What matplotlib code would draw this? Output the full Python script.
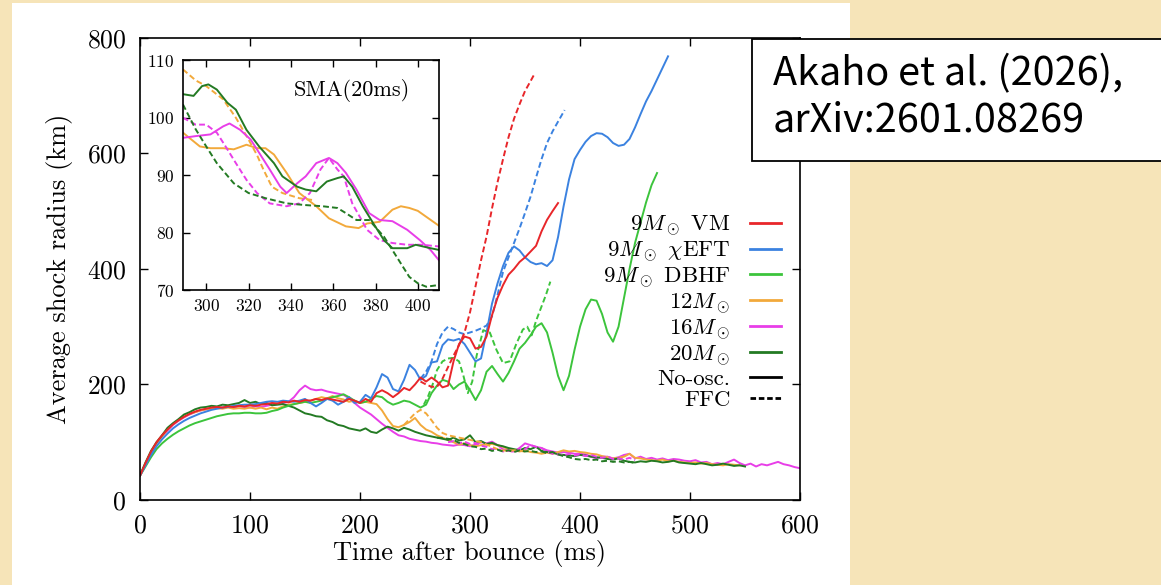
import matplotlib
matplotlib.use("Agg")
import matplotlib.pyplot as plt
from matplotlib.lines import Line2D
from matplotlib.patches import Rectangle

plt.rcParams["font.family"] = "serif"
plt.rcParams["font.serif"] = ["cmr10", "DejaVu Serif"]
plt.rcParams["mathtext.fontset"] = "cm"
plt.rcParams["axes.formatter.use_mathtext"] = True

# ---- main panel data (time after bounce in ms, shock radius in km) ----
t_vm = list(range(0, 385, 5))
r_vm = [42, 64, 84, 100, 112, 122, 131, 138, 144, 149,
        153, 156, 158, 160, 161, 160, 162, 161, 163, 162,
        164, 163, 165, 166, 168, 167, 170, 169, 172, 170,
        173, 172, 175, 173, 176, 174, 172, 170, 175, 172,
        168, 175, 170, 185, 190, 185, 178, 185, 194, 190,
        200, 212, 205, 212, 205, 195, 198, 240, 270, 283,
        280, 262, 265, 283, 320, 350, 372, 390, 400, 412,
        420, 430, 440, 465, 485, 500, 514]
t_vm_ffc = [255, 260, 265, 270, 275, 280, 285, 290, 295, 300, 305,
            310, 315, 320, 325, 330, 335, 340, 345, 350, 355, 359]
r_vm_ffc = [205, 200, 196, 196, 210, 230, 250, 268, 290, 325, 370,
            415, 456, 505, 550, 590, 628, 660, 685, 708, 725, 739]

t_eft = list(range(0, 485, 5))
r_eft = [42, 60, 78, 93, 105, 115, 124, 131, 137, 142,
         146, 150, 153, 156, 158, 160, 161, 163, 164, 165,
         165, 166, 168, 170, 171, 170, 172, 171, 170, 172,
         175, 168, 162, 168, 175, 172, 165, 170, 178, 168,
         170, 182, 176, 195, 218, 212, 192, 188, 208, 234,
         225, 208, 215, 238, 240, 268, 278, 276, 279, 270,
         255, 240, 245, 290, 340, 375, 405, 428, 439, 432,
         420, 412, 408, 410, 405, 415, 455, 508, 555, 590,
         606, 620, 630, 635, 634, 628, 618, 613, 615, 625,
         645, 668, 690, 708, 728, 748, 768]
t_eft_ffc = [255, 260, 265, 270, 275, 280, 285, 290, 295, 300, 305, 310, 315,
             320, 325, 330, 335, 340, 345, 350, 355, 360, 365, 370, 375, 380, 386]
r_eft_ffc = [210, 222, 240, 270, 290, 300, 296, 290, 287, 290, 293, 297, 302,
             318, 355, 395, 420, 445, 470, 497, 525, 558, 590, 618, 638, 655, 675]

t_dbhf = list(range(0, 475, 5))
r_dbhf = [42, 58, 74, 88, 98, 106, 113, 119, 124, 129,
          133, 136, 139, 142, 145, 147, 149, 150, 150, 151,
          151, 150, 150, 151, 154, 156, 160, 163, 166, 168,
          170, 168, 170, 172, 175, 178, 180, 183, 178, 172,
          168, 170, 175, 180, 178, 170, 165, 168, 172, 170,
          165, 160, 165, 185, 198, 208, 205, 192, 200, 205,
          190, 173, 190, 222, 232, 218, 205, 220, 240, 262,
          272, 285, 300, 306, 290, 255, 215, 190, 215, 260,
          300, 330, 347, 345, 322, 290, 274, 300, 350, 400,
          445, 480, 515, 545, 566]
t_dbhf_ffc = [258, 262, 266, 270, 275, 280, 285, 290, 294, 298, 302, 306, 312,
              318, 324, 330, 336, 342, 348, 352, 356, 360, 365, 369, 373]
r_dbhf_ffc = [165, 180, 200, 225, 240, 245, 246, 240, 215, 185, 205, 250, 294,
              290, 260, 237, 240, 270, 295, 300, 285, 310, 335, 355, 378]

t_12 = list(range(0, 550, 5))
r_12 = [42, 63, 83, 98, 110, 122, 131, 138, 144, 149,
        152, 155, 157, 158, 159, 158, 160, 158, 159, 158,
        160, 158, 160, 157, 160, 158, 162, 165, 166, 168,
        170, 172, 175, 178, 176, 180, 176, 174, 170, 172,
        168, 170, 168, 166, 155, 140, 128, 126, 130, 135,
        142, 130, 122, 118, 112, 108, 104, 100, 96, 98,
        95, 93, 95, 96, 97, 95, 92, 88, 86, 84,
        86, 83, 82, 80, 82, 80, 83, 86, 84, 85,
        83, 82, 80, 79, 76, 74, 72, 73, 75, 80,
        73, 72, 70, 69, 68, 70, 67, 68, 66, 65,
        64, 65, 63, 64, 62, 61, 60, 62, 61, 60]
t_12_ffc = [240, 245, 250, 255, 260, 265, 270, 275, 280, 285, 290, 295, 300,
            305, 310, 315, 320, 325, 330, 335, 340, 345, 350]
r_12_ffc = [130, 140, 150, 156, 150, 138, 125, 116, 112, 110, 108, 106, 104,
            102, 100, 96, 92, 88, 86, 85, 86, 85, 84]

t_16 = list(range(0, 605, 5))
r_16 = [42, 62, 82, 98, 110, 120, 130, 137, 143, 148,
        152, 155, 157, 158, 160, 160, 161, 160, 162, 161,
        160, 162, 161, 163, 165, 166, 168, 170, 178, 190,
        198, 192, 190, 191, 188, 186, 184, 182, 176, 168,
        160, 154, 148, 140, 132, 125, 118, 112, 110, 106,
        104, 102, 101, 99, 98, 96, 95, 94, 96, 95,
        93, 96, 100, 98, 101, 95, 88, 85, 84, 90,
        98, 95, 92, 90, 86, 84, 82, 83, 82, 80,
        80, 79, 75, 72, 75, 75, 72, 74, 78, 80,
        72, 75, 71, 73, 70, 72, 69, 71, 70, 68,
        67, 69, 65, 66, 62, 64, 62, 66, 70, 64,
        60, 63, 58, 62, 60, 63, 66, 62, 60, 57, 55]
t_16_ffc = [280, 285, 290, 295, 300, 305, 310, 315, 320, 325, 330, 335, 340, 345,
            350, 355, 360, 365, 370, 375, 380, 385, 390, 395, 400, 405, 410, 415,
            420, 425, 430, 435, 440, 445, 450]
r_16_ffc = [100, 102, 98, 101, 97, 99, 94, 92, 88, 89, 84, 86, 83, 87,
            88, 95, 92, 90, 84, 80, 79, 77, 80, 77, 79, 76, 78, 75,
            73, 75, 71, 72, 70, 73, 69]

t_20 = list(range(0, 555, 5))
r_20 = [43, 65, 85, 100, 112, 125, 133, 140, 148, 152,
        157, 160, 161, 163, 162, 165, 164, 166, 168, 173,
        168, 170, 166, 168, 164, 165, 166, 163, 160, 155,
        150, 148, 145, 144, 138, 135, 130, 128, 124, 122,
        120, 124, 118, 116, 122, 127, 124, 120, 125, 122,
        118, 115, 112, 110, 108, 106, 104, 108, 103, 105,
        112, 100, 102, 97, 99, 95, 93, 90, 88, 86,
        90, 88, 92, 85, 83, 82, 79, 78, 77, 76,
        78, 77, 75, 74, 73, 71, 70, 72, 68, 66,
        65, 67, 66, 68, 67, 65, 66, 68, 65, 64,
        63, 62, 64, 62, 60, 61, 63, 61, 59, 60, 58]
t_20_ffc = [270, 275, 280, 285, 290, 295, 300, 305, 310, 315, 320, 325, 330,
            335, 340, 345, 350, 355, 360, 365, 370, 375, 380, 385, 390, 395,
            400, 405, 410, 415, 420, 425, 430, 435, 440, 445, 450]
r_20_ffc = [108, 107, 106, 104, 99, 97, 93, 92, 88, 89, 85, 87, 84,
            86, 83, 86, 84, 85, 83, 84, 81, 83, 79, 76, 74, 71,
            70, 71, 69, 70, 67, 68, 66, 67, 65, 66, 64]

# ---- inset data: 20 ms simple moving average ----
ti_12 = [289, 297, 302, 308, 313, 319, 324, 328, 332, 338, 344, 352, 358, 366,
         372, 376, 382, 388, 392, 396, 400, 405, 410]
ri_12 = [97.4, 95.0, 94.7, 94.7, 94.5, 95.3, 94.7, 94.7, 93.6, 90.4, 86.9, 84.6,
         82.5, 81.1, 80.8, 81.6, 81.9, 84.0, 84.6, 84.3, 83.8, 82.5, 81.2]
ti_12_ffc = [289, 295, 300, 308, 314, 320, 324, 327, 331, 336, 344, 350]
ri_12_ffc = [108.4, 106.5, 105.5, 103.2, 100.0, 96.2, 93.5, 91.0, 88.0, 86.9,
             86.0, 85.7]
ti_16 = [289, 295, 302, 308, 311, 316, 321, 325, 330, 335, 338, 343, 347, 352,
         358, 362, 366, 371, 377, 382, 388, 395, 401, 406, 410]
ri_16 = [96.5, 96.8, 97.1, 98.5, 99.0, 97.9, 96.2, 93.9, 91.0, 88.0, 86.9, 88.6,
         89.8, 92.1, 93.0, 92.1, 90.4, 87.5, 83.4, 82.2, 82.0, 80.5, 78.7, 77.0, 75.2]
ti_16_ffc = [289, 295, 300, 305, 310, 314, 319, 324, 330, 338, 344, 349, 354,
             358, 362, 365, 369, 376, 382, 388, 395, 402, 410]
ri_16_ffc = [100.0, 98.8, 98.8, 97.4, 94.5, 92.1, 89.2, 86.9, 85.1, 84.6, 85.1,
             86.9, 91.0, 93.0, 91.0, 89.8, 85.1, 80.5, 78.7, 78.2, 77.9, 77.9, 77.6]
ti_20 = [289, 294, 298, 301, 305, 310, 314, 319, 325, 332, 336, 343, 347, 352,
         357, 362, 365, 369, 374, 379, 384, 388, 395, 399, 406, 410]
ri_20 = [104.1, 103.8, 105.5, 105.8, 104.9, 102.6, 101.4, 97.9, 95.0, 92.1, 89.8,
         88.0, 87.5, 87.2, 88.9, 89.5, 89.8, 88.0, 84.6, 81.6, 78.7, 77.3, 77.3,
         77.9, 77.3, 77.0]
ti_20_ffc = [289, 295, 300, 305, 313, 320, 328, 338, 347, 355, 362, 366, 371,
             377, 384, 390, 396, 400, 404, 410]
ri_20_ffc = [102.3, 98.0, 95.0, 92.1, 88.6, 86.9, 86.0, 85.1, 84.8, 84.6, 84.3,
             83.4, 82.2, 82.2, 79.3, 75.8, 72.3, 71.2, 70.6, 70.9]

c_vm = "#e8262a"
c_eft = "#3b82e0"
c_dbhf = "#3cc43c"
c_12 = "#f2a93b"
c_16 = "#e83ee8"
c_20 = "#237a23"

labels = [r"$9M_\odot$ VM", r"$9M_\odot$ $\chi$EFT", r"$9M_\odot$ DBHF",
          r"$12M_\odot$", r"$16M_\odot$", r"$20M_\odot$", "No-osc.", "FFC"]

dash = (0, (3, 1.6))
lw = 1.4

fig = plt.figure(figsize=(11.61, 5.85), dpi=100, facecolor="#f6e4b8")
fig.add_artist(Rectangle((12 / 1161, 0), 838 / 1161, 582 / 585,
                         transform=fig.transFigure, facecolor="white",
                         edgecolor="none", zorder=-5))

ax = fig.add_axes([0.1206, 0.1453, 0.5685, 0.79])
ax.plot(t_16, r_16, color=c_16, lw=lw)
ax.plot(t_12, r_12, color=c_12, lw=lw)
ax.plot(t_20, r_20, color=c_20, lw=lw)
ax.plot(t_16_ffc, r_16_ffc, color=c_16, lw=lw, ls=dash)
ax.plot(t_12_ffc, r_12_ffc, color=c_12, lw=lw, ls=dash)
ax.plot(t_20_ffc, r_20_ffc, color=c_20, lw=lw, ls=dash)
ax.plot(t_dbhf, r_dbhf, color=c_dbhf, lw=lw)
ax.plot(t_dbhf_ffc, r_dbhf_ffc, color=c_dbhf, lw=lw, ls=dash)
ax.plot(t_eft, r_eft, color=c_eft, lw=lw)
ax.plot(t_eft_ffc, r_eft_ffc, color=c_eft, lw=lw, ls=dash)
ax.plot(t_vm, r_vm, color=c_vm, lw=lw)
ax.plot(t_vm_ffc, r_vm_ffc, color=c_vm, lw=lw, ls=dash)

ax.set_xlim(0, 600)
ax.set_ylim(0, 800)
ax.set_xticks(range(0, 601, 100))
ax.set_yticks(range(0, 801, 200))
ax.tick_params(direction="in", top=True, right=True, length=6, width=1,
               labelsize=18.5, pad=10)
for s in ax.spines.values():
    s.set_linewidth(1.2)
ax.set_xlabel("Time after bounce (ms)", fontsize=19, labelpad=2)
ax.set_ylabel("Average shock radius (km)", fontsize=19, labelpad=10)

handles = [Line2D([], [], color=c, lw=2) for c in
           (c_vm, c_eft, c_dbhf, c_12, c_16, c_20)]
handles.append(Line2D([], [], color="black", lw=2))
handles.append(Line2D([], [], color="black", lw=2, ls=(0, (2, 1))))
ax.legend(handles, labels, loc="upper right", bbox_to_anchor=(0.985, 0.64),
          frameon=False, markerfirst=False, fontsize=16.5, handlelength=1.35,
          handletextpad=0.85, labelspacing=0.04, borderaxespad=0)

# inset
axin = fig.add_axes([0.1576, 0.504, 0.2205, 0.393])
axin.plot(ti_12, ri_12, color=c_12, lw=lw)
axin.plot(ti_12_ffc, ri_12_ffc, color=c_12, lw=lw, ls=dash)
axin.plot(ti_16, ri_16, color=c_16, lw=lw)
axin.plot(ti_16_ffc, ri_16_ffc, color=c_16, lw=lw, ls=dash)
axin.plot(ti_20, ri_20, color=c_20, lw=lw)
axin.plot(ti_20_ffc, ri_20_ffc, color=c_20, lw=lw, ls=dash)
axin.set_xlim(289, 410)
axin.set_ylim(70, 110)
axin.set_xticks(range(300, 401, 20))
axin.set_yticks(range(70, 111, 10))
axin.tick_params(direction="in", top=True, right=True, length=5, width=1,
                 labelsize=12.5, pad=6)
for s in axin.spines.values():
    s.set_linewidth(1.2)
axin.text(0.66, 0.87, "SMA(20ms)", transform=axin.transAxes, fontsize=16,
          ha="center", va="center")

# citation box
fig.add_artist(Rectangle((752 / 1161, (585 - 161) / 585), 420 / 1161, 122 / 585,
                         transform=fig.transFigure, facecolor="white",
                         edgecolor="black", lw=1.3, zorder=5))
fig.text(773 / 1161, (585 - 85) / 585, "Akaho et al. (2026),", fontsize=28.5,
         family="Noto Sans CJK JP", va="baseline", zorder=6)
fig.text(773 / 1161, (585 - 132) / 585, "arXiv:2601.08269", fontsize=28.5,
         family="Noto Sans CJK JP", va="baseline", zorder=6)

fig.savefig("out.png", dpi=100, facecolor=fig.get_facecolor())
